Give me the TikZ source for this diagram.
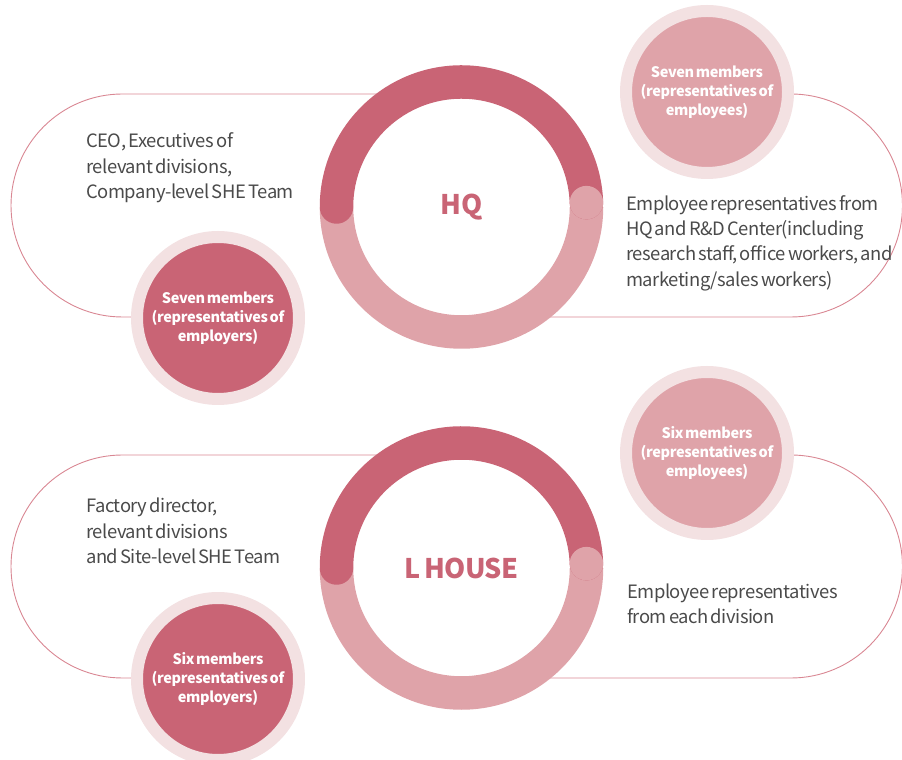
\documentclass[tikz,border=0pt]{standalone}
\usepackage{fontspec}
\setmainfont{Noto Sans CJK KR}[LetterSpace=-2.5, WordSpace=0.6]
\usetikzlibrary{calc}
\definecolor{rosed}{HTML}{C96475}
\definecolor{rosel}{HTML}{DFA3A9}
\definecolor{rosep}{HTML}{F3E1E2}
\definecolor{pillline}{HTML}{D98793}
\definecolor{textgray}{HTML}{4A4A4A}

\begin{document}
\begin{tikzpicture}[
		x=1pt, y=1pt,
		pill/.style={draw=pillline, line width=0.9pt},
		ringlight/.style={draw=rosel, line width=33.5pt},
		ringdark/.style={draw=rosed, line width=33.5pt, line cap=round},
		member/.style={circle, draw=rosep, line width=12pt, minimum size=162pt, inner sep=0pt, align=center, text=white, font=\bfseries\fontsize{14.5}{19}\selectfont},
		employer/.style={member, fill=rosed},
		employee/.style={member, fill=rosel},
		desc/.style={anchor=west, inner sep=0pt, align=left, text=textgray, font=\fontsize{18.4}{25.3}\selectfont},
		site/.style={text=rosed, font=\bfseries\fontsize{27}{27}\selectfont}
		]
		\useasboundingbox (0,0) rectangle (902,760);
		\def\r{125}
		
		% --------------------------------------------------
		% HQ committee
		% --------------------------------------------------
		\coordinate (HQ) at (461.5,553);
		
		% outlines
		\draw[pill] ($(HQ)+(0,113)$) -- (122.5,666) arc[start angle=90, end angle=270, radius=111.5] -- (218,443);
		\draw[pill] (707,666) -- (791,666) arc[start angle=90, end angle=-90, radius=111.5] -- ($(HQ)+(0,-110)$);
		
		% ring
		\draw[ringlight] ($(HQ)+(180:\r)$) arc[start angle=180, end angle=360, radius=\r];
		\draw[ringdark] ($(HQ)+(2:\r)$) arc[start angle=2, end angle=180, radius=\r];
		\fill[rosel] ($(HQ)+(2:\r)$) circle (16.75);
		\node[site] (HQname) at (HQ) {HQ};
		
		% members
		\node[employer] (HQer) at (218,442) {Seven members\\(representatives of\\employers)};
		\node[employee] (HQee) at (707,668) {Seven members\\(representatives of\\employees)};
		
		\node[desc] (HQerText) at (86,592) {CEO, Executives of\\relevant divisions,\\Company-level SHE Team};
		\node[desc] (HQeeText) at (626,517) {Employee representatives from\\HQ and R\&D Center(including\\research staff, office workers, and\\marketing/sales workers)};
		
		% --------------------------------------------------
		% L HOUSE committee
		% --------------------------------------------------
		\coordinate (LH) at (461.5,192);
		
		% outlines
		\draw[pill] ($(LH)+(0,113)$) -- (122.5,305) arc[start angle=90, end angle=270, radius=111.5] -- (218,82);
		\draw[pill] (707,305) -- (791,305) arc[start angle=90, end angle=-90, radius=111.5] -- ($(LH)+(0,-110)$);
		
		% ring
		\draw[ringlight] ($(LH)+(180:\r)$) arc[start angle=180, end angle=360, radius=\r];
		\draw[ringdark] ($(LH)+(2:\r)$) arc[start angle=2, end angle=180, radius=\r];
		\fill[rosel] ($(LH)+(2:\r)$) circle (16.75);
		\node[site] (LHname) at (LH) {L HOUSE};
		
		% members
		\node[employer] (LHer) at (218,81) {Six members\\(representatives of\\employers)};
		\node[employee] (LHee) at (707,307) {Six members\\(representatives of\\employees)};
		
		\node[desc] (LHerText) at (86,229) {Factory director,\\relevant divisions\\and Site-level SHE Team};
		\node[desc] (LHeeText) at (627,156.5) {Employee representatives\\from each division};
		
	\end{tikzpicture}
\end{document}
